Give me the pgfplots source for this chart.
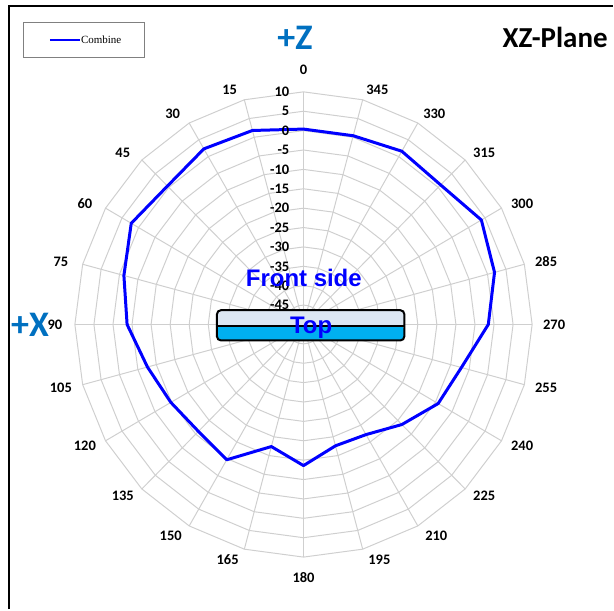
\documentclass[border=0pt]{standalone}
\usepackage{pgfplots}
\pgfplotsset{compat=1.18}
\usepackage{pgfplotstable}
\usepackage{fontspec}
\setmainfont{Carlito}
\newfontfamily\lsans{Liberation Sans}
\newfontfamily\lserif{Liberation Serif}
\definecolor{gridc}{HTML}{CFCFCF}
\definecolor{zblue}{HTML}{0070C0}
\definecolor{toplight}{HTML}{DCE6F2}
\definecolor{topcyan}{HTML}{00B0F0}

\pgfplotstableread{
ang val
0 0.4
15 1.8
30 2.3
45 0.5
60 2.2
75 -1.2
90 -3.7
105 -7.6
120 -9.8
135 -11.0
150 -9.7
165 -17.4
180 -13.6
195 -17.6
210 -17.2
225 -13.5
240 -9.2
255 -7.1
270 -1.5
285 1.9
300 3.9
315 0.9
330 1.6
345 0.4
360 0.4
}\datatable

\begin{document}
\begin{tikzpicture}
\begin{axis}[
  width=614pt, height=610pt, scale only axis,
  xmin=0, xmax=614, ymin=0, ymax=610,
  axis lines=none, ticks=none, clip=false,
]
\path (axis cs:0,0) rectangle (axis cs:614,610);
% frame
\draw[black, line width=2pt] (axis cs:9,0) -- (axis cs:9,604) -- (axis cs:614,604);
% polygon rings
\pgfplotsinvokeforeach{1,...,12}{
  \addplot[gridc, line width=1pt, domain=0:360, samples=25, no marks]
    ({304-229*#1/12*sin(x)},{285+233*#1/12*cos(x)});
}
% spokes
\pgfplotsinvokeforeach{0,15,...,345}{
  \draw[gridc, line width=1pt] (axis cs:304,285) -- (axis cs:{304-229*sin(#1)},{285+233*cos(#1)});
}
% data
\addplot[blue, line width=3pt, no marks, line join=round]
  table[x expr={304-229*(\thisrow{val}+50)/60*sin(\thisrow{ang})},
        y expr={285+233*(\thisrow{val}+50)/60*cos(\thisrow{ang})}] {\datatable};
% radial labels
\begin{scope}[every node/.style={anchor=east, inner sep=0pt, font=\bfseries\fontsize{14.5}{15}\selectfont}]
\node at (axis cs:290,{285+233*12/12}) {10};
\node at (axis cs:290,{285+233*11/12}) {5};
\node at (axis cs:290,{285+233*10/12}) {0};
\node at (axis cs:290,{285+233*9/12}) {-5};
\node at (axis cs:290,{285+233*8/12}) {-10};
\node at (axis cs:290,{285+233*7/12}) {-15};
\node at (axis cs:290,{285+233*6/12}) {-20};
\node at (axis cs:290,{285+233*5/12}) {-25};
\node at (axis cs:290,{285+233*4/12}) {-30};
\node at (axis cs:290,{285+233*3/12}) {-35};
\node at (axis cs:290,{285+233*2/12}) {-40};
\node at (axis cs:290,{285+233*1/12}) {-45};
\end{scope}
% angle labels
\begin{scope}[every node/.style={inner sep=0pt, font=\bfseries\fontsize{14.5}{15}\selectfont}]
\node at (axis cs:304,540) {0};
\node at (axis cs:230,520) {15};
\node at (axis cs:173,496) {30};
\node at (axis cs:123,457) {45};
\node at (axis cs:85,406) {60};
\node at (axis cs:61,348) {75};
\node at (axis cs:55,285) {90};
\node at (axis cs:61,222) {105};
\node at (axis cs:85,163) {120};
\node at (axis cs:123,113) {135};
\node at (axis cs:171,73) {150};
\node at (axis cs:228,49) {165};
\node at (axis cs:304,32) {180};
\node at (axis cs:380,49) {195};
\node at (axis cs:437,73) {210};
\node at (axis cs:485,113) {225};
\node at (axis cs:523,163) {240};
\node at (axis cs:547,222) {255};
\node at (axis cs:555,285) {270};
\node at (axis cs:547,348) {285};
\node at (axis cs:523,406) {300};
\node at (axis cs:485,457) {315};
\node at (axis cs:435,496) {330};
\node at (axis cs:378,520) {345};
\end{scope}
% device box
\fill[toplight, rounded corners=4pt] (axis cs:217.3,299.3) -- (axis cs:405,299.3) -- (axis cs:405,283.3) -- (axis cs:217.3,283.3) -- cycle;
\fill[topcyan, rounded corners=4pt] (axis cs:217.3,283.3) -- (axis cs:405,283.3) -- (axis cs:405,269) -- (axis cs:217.3,269) -- cycle;
\draw[black, line width=2pt, rounded corners=4pt] (axis cs:217.3,269) rectangle (axis cs:405,299.3);
\draw[black, line width=2pt] (axis cs:217.3,283.3) -- (axis cs:405,283.3);
\node[anchor=base, inner sep=0pt, text=blue, font=\lsans\bfseries\fontsize{24}{26}\selectfont] at (axis cs:311.7,275.7) {Top};
\node[anchor=base, inner sep=0pt, text=blue, font=\lsans\bfseries\fontsize{24}{26}\selectfont] at (axis cs:304.3,323) {Front side};
% axis direction labels and title
\node[inner sep=0pt, text=zblue, font=\bfseries\fontsize{36}{38}\selectfont] at (axis cs:295.5,572) {+Z};
\node[inner sep=0pt, text=zblue, font=\bfseries\fontsize{36}{38}\selectfont] at (axis cs:30,285) {+X};
\node[inner sep=0pt, text=black, font=\bfseries\fontsize{29}{31}\selectfont] at (axis cs:556,572) {XZ-Plane};
% legend
\draw[gray, line width=0.8pt, fill=white] (axis cs:23,553) rectangle (axis cs:145,588);
\draw[blue, line width=2pt] (axis cs:50,570) -- (axis cs:80,570);
\node[anchor=west, inner sep=0pt, font=\lserif\fontsize{11}{12}\selectfont] at (axis cs:81,570) {Combine};
\end{axis}
\end{tikzpicture}
\end{document}
